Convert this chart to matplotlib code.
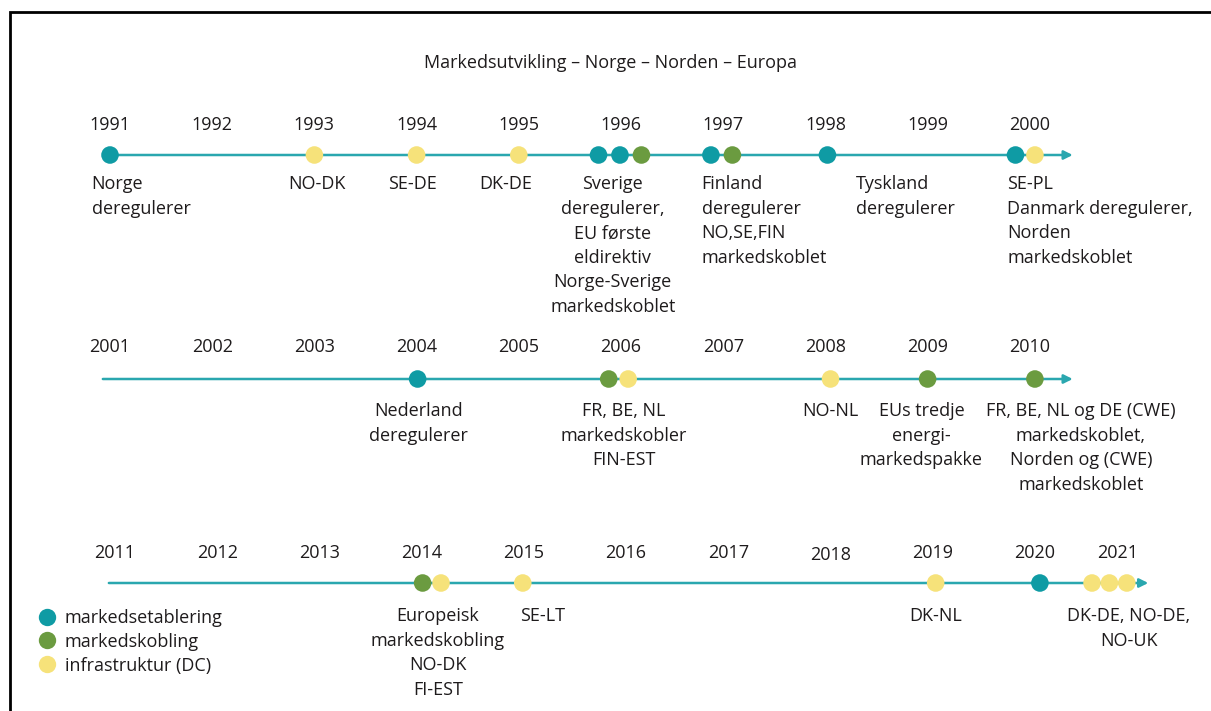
import matplotlib.pyplot as plt
from matplotlib.lines import Line2D
from matplotlib.patches import Rectangle

plt.rcParams['font.family'] = ['Open Sans', 'DejaVu Sans']
plt.rcParams['font.size'] = 13

title = 'Markedsutvikling – Norge – Norden – Europa'

categories = ['markedsetablering', 'markedskobling', 'infrastruktur (DC)']
cat_colors = ['#0f9ba4', '#6b9b40', '#f6e27a']

# row 1: 1991-2000
years_1 = [1991, 1992, 1993, 1994, 1995, 1996, 1997, 1998, 1999, 2000]
events_1_x = [1991.0, 1993.0, 1994.0, 1995.0, 1995.78, 1995.99, 1996.2,
              1996.88, 1997.09, 1998.02, 1999.86, 2000.05]
events_1_cat = [0, 2, 2, 2, 0, 0, 1, 0, 1, 0, 0, 2]
labels_1_x = [1990.82, 1993.02, 1993.96, 1994.87, 1995.92, 1996.79, 1998.3, 1999.78]
labels_1_text = ['Norge\nderegulerer', 'NO-DK', 'SE-DE', 'DK-DE',
                 'Sverige\nderegulerer,\nEU første\neldirektiv\nNorge-Sverige\nmarkedskoblet',
                 'Finland\nderegulerer\nNO,SE,FIN\nmarkedskoblet',
                 'Tyskland\nderegulerer',
                 'SE-PL\nDanmark deregulerer,\nNorden\nmarkedskoblet']

# row 2: 2001-2010
years_2 = [2001, 2002, 2003, 2004, 2005, 2006, 2007, 2008, 2009, 2010]
events_2_x = [2004.01, 2005.88, 2006.07, 2008.05, 2009.0, 2010.05]
events_2_cat = [0, 1, 2, 2, 1, 1]
labels_2_x = [2004.02, 2006.03, 2008.05, 2008.94, 2010.5]
labels_2_text = ['Nederland\nderegulerer',
                 'FR, BE, NL\nmarkedskobler\nFIN-EST',
                 'NO-NL',
                 'EUs tredje\nenergi-\nmarkedspakke',
                 'FR, BE, NL og DE (CWE)\nmarkedskoblet,\nNorden og (CWE)\nmarkedskoblet']

# row 3: 2011-2021
years_3 = [2011, 2012, 2013, 2014, 2015, 2016, 2017, 2018, 2019, 2020, 2021]
events_3_x = [2014.01, 2014.19, 2014.99, 2019.03, 2020.05, 2020.56, 2020.73, 2020.9]
events_3_cat = [1, 2, 2, 2, 0, 2, 2, 2]
labels_3_x = [2014.16, 2015.18, 2019.03, 2020.92]
labels_3_text = ['Europeisk\nmarkedskobling\nNO-DK\nFI-EST', 'SE-LT', 'DK-NL',
                 'DK-DE, NO-DE,\nNO-UK']

W, H = 1211, 711
PPY = 102.2  # pixels per year
TXT = '#1e1b1c'

fig = plt.figure(figsize=(W / 100, H / 100), dpi=100)

# frame (only top and left edge visible in the crop)
fig.add_artist(Rectangle((10 / W, -0.2), 1.5, (H - 12) / H + 0.2, transform=fig.transFigure,
                         fill=False, lw=2, ec='black'))

fig.text(611 / W, 1 - 68 / H, title, ha='center', va='baseline', fontsize=13, color=TXT)

rows = [
    dict(years=years_1, ex=events_1_x, ec=events_1_cat, lx=labels_1_x, lt=labels_1_text,
         ha=['left', 'center', 'center', 'center', 'center', 'left', 'left', 'left'],
         px0=110, line_y=155, year_y=130, label_y=175, start=1990.98, end=2000.42,
         year_shift={}),
    dict(years=years_2, ex=events_2_x, ec=events_2_cat, lx=labels_2_x, lt=labels_2_text,
         ha=['center'] * 5,
         px0=110, line_y=379, year_y=352, label_y=402, start=2000.93, end=2010.42,
         year_shift={}),
    dict(years=years_3, ex=events_3_x, ec=events_3_cat, lx=labels_3_x, lt=labels_3_text,
         ha=['center'] * 4,
         px0=115, line_y=583, year_y=558, label_y=607, start=2010.94, end=2021.11,
         year_shift={2021: (-0.19, 0), 2018: (0, 2)}),
]

for r in rows:
    ax = fig.add_axes([0, 0, 1, 1])
    ax.patch.set_alpha(0)
    y0 = r['years'][0]
    ax.set_xlim(y0 - r['px0'] / PPY, y0 + (W - r['px0']) / PPY)
    ax.set_ylim(H, 0)
    ax.axis('off')

    for yr in r['years']:
        dx, dy = r['year_shift'].get(yr, (0, 0))
        ax.text(yr + dx, r['year_y'] + dy, str(yr), ha='center', va='baseline',
                fontsize=13, color=TXT)

    ax.annotate('', xy=(r['end'], r['line_y']), xytext=(r['start'], r['line_y']),
                arrowprops=dict(arrowstyle='-|>', color='#2aa7af', lw=1.8,
                                mutation_scale=13, shrinkA=0, shrinkB=0))

    ax.scatter(r['ex'], [r['line_y']] * len(r['ex']), s=160,
               c=[cat_colors[c] for c in r['ec']], edgecolors='none', zorder=3)

    for x, t, ha in zip(r['lx'], r['lt'], r['ha']):
        ax.text(x, r['label_y'], t, ha=ha, va='top', multialignment=ha,
                fontsize=13, linespacing=1.47, color=TXT)

handles = [Line2D([], [], marker='o', ls='', markersize=12.5, color=c, markeredgewidth=0)
           for c in cat_colors]
fig.legend(handles, categories, loc='upper left', bbox_to_anchor=(43 / W, 1 - 609 / H),
           frameon=False, fontsize=13, handlelength=0.4, handletextpad=0.8,
           labelspacing=0.32, borderpad=0, borderaxespad=0, labelcolor=TXT)

plt.savefig('out.png', dpi=100)
